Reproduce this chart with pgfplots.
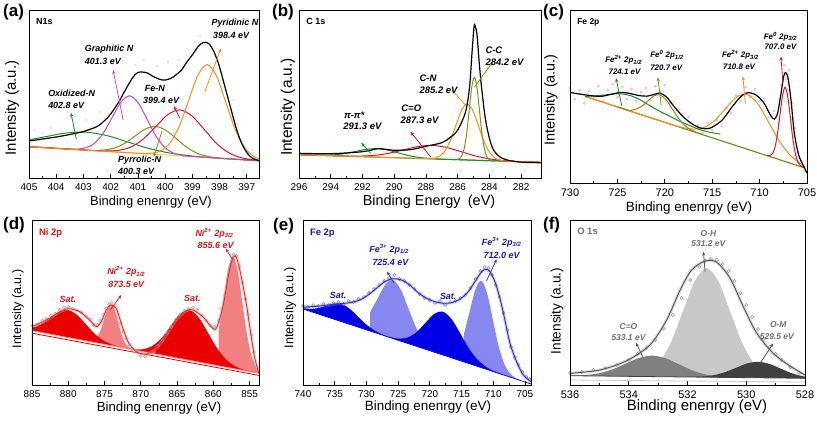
\documentclass[border=0pt]{standalone}
\usepackage{fontspec}
\setmainfont{Liberation Sans}
\usepackage{pgfplots}
\pgfplotsset{compat=1.18}
\usetikzlibrary{arrows.meta}
\definecolor{aorange}{RGB}{255,140,26}
\definecolor{ared}{RGB}{232,20,45}
\definecolor{aolive}{RGB}{140,140,20}
\definecolor{amag}{RGB}{200,70,200}
\definecolor{agreen}{RGB}{30,140,40}
\definecolor{ayellow}{RGB}{225,215,90}
\definecolor{cbase}{RGB}{128,128,32}
\definecolor{pinkdot}{RGB}{240,180,230}
\definecolor{dred}{RGB}{235,0,0}
\definecolor{lred}{RGB}{242,128,128}
\definecolor{dtext}{RGB}{225,20,20}
\definecolor{denv}{RGB}{205,50,50}
\definecolor{dcirc}{RGB}{236,140,140}
\definecolor{dblue}{RGB}{0,0,230}
\definecolor{lblue}{RGB}{135,135,240}
\definecolor{btext}{RGB}{25,25,190}
\definecolor{benv}{RGB}{50,50,190}
\definecolor{bcirc}{RGB}{120,120,200}
\definecolor{g1}{RGB}{200,200,200}
\definecolor{g2}{RGB}{128,128,128}
\definecolor{g3}{RGB}{64,64,64}
\definecolor{gtext}{RGB}{112,112,112}
\definecolor{genv}{RGB}{90,90,90}
\definecolor{gcirc}{RGB}{150,150,150}
\tikzset{ann/.style={inner sep=0pt, font=\fontsize{#1}{#1}\selectfont\bfseries\itshape},
 arr/.style={-{Stealth[length=4bp,width=3.2bp]}, line width=0.8bp}}
\pgfplotsset{
 xps/.style={scale only axis, anchor=south west, x dir=reverse, axis on top,
  clip mode=individual, ytick=\empty, xtick pos=left, tick align=inside,
  major tick length=4bp, minor tick length=2.5bp, minor x tick num=1,
  axis line style={line width=0.9bp, black},
  every tick/.append style={black, line width=0.7bp},
  /pgf/number format/assume math mode=true, /pgf/number format/1000 sep={},
  xticklabel style={font=\fontsize{10}{12}\selectfont, yshift=-2bp}},
 comp/.style={smooth, line width=1bp},
}
\begin{document}
\begin{tikzpicture}
\useasboundingbox (0,0) rectangle (817bp,-424bp);
% ---------------- (a)
\begin{axis}[xps, at={(29bp,-178bp)}, width=230bp, height=168bp,
 xmin=396.55, xmax=405, ymin=-8, ymax=160, xtick={397,398,...,405}]
\addplot[only marks, mark=*, mark size=1.2bp, pinkdot, opacity=0.35] coordinates {(404.8,40) (404.5,36) (404.2,42) (403.8,38) (403.3,47) (402.9,50) (402.4,58) (401.1,105) (400.8,110) (400.3,104) (399.9,108) (399.5,110) (399.2,114) (398.9,128) (398.7,134) (397.9,115) (397.5,70) (396.8,20)};
\addplot[ayellow, line width=1bp] coordinates {(396.55,9.3) (405,23.3)};
\addplot[comp, agreen] coordinates {(396.55,9.3) (397.65,11.16) (398.4,12.57) (399.15,14.4) (399.9,17.29) (400.65,21.93) (401.4,28.26) (402.15,34.47) (402.9,37.82) (403.65,36.95) (404.4,33.23) (405.15,29.39)};
\addplot[comp, aolive] coordinates {(396.55,9.3) (397.69,11.25) (398.07,12.13) (398.45,13.68) (398.83,16.87) (399.21,22.8) (399.59,31.32) (399.97,39.68) (400.35,43.6) (400.73,40.94) (401.11,33.84) (401.49,26.58) (401.87,21.91) (402.25,19.97) (402.63,19.68) (403.01,20.06) (405,23.3)};
\addplot[comp, amag] coordinates {(396.55,9.3) (399.06,13.59) (399.38,14.62) (399.70,17.02) (400.02,22.76) (400.34,34.09) (400.66,50.68) (400.98,66.94) (401.30,74.17) (401.62,68.0) (401.94,52.8) (402.26,37.27) (402.58,27.0) (402.90,22.32) (403.22,20.98) (403.54,21.01) (405,23.3)};
\addplot[comp, ared] coordinates {(396.34,9.05) (396.78,10.19) (397.23,12.45) (397.67,17.38) (398.12,26.84) (398.56,40.53) (399.01,53.98) (399.45,60.11) (399.90,55.45) (400.34,43.48) (400.79,31.27) (401.23,23.27) (401.68,19.82) (402.12,19.04) (402.57,19.38) (405,23.3)};
\addplot[comp, aorange] coordinates {(396.07,8.7) (396.41,10.1) (396.75,13.71) (397.09,22.77) (397.43,40.96) (397.77,67.72) (398.11,93.95) (398.45,105.45) (398.79,95.08) (399.13,69.98) (399.47,44.34) (399.81,27.28) (400.15,19.35) (400.49,16.86) (400.83,16.59) (402,18.33) (405,23.3)};
\addplot[comp, black, line width=1.2bp] coordinates {(405,29) (404.5,31) (404,33) (403.5,35.5) (403,38.5) (402.5,43.5) (402.2,50) (402,56) (401.7,68) (401.5,78) (401.2,92) (401,97.5) (400.7,97.5) (400.4,93) (400.1,90) (399.9,90.5) (399.7,93) (399.4,100) (399.2,108) (399,115) (398.8,123) (398.6,127.5) (398.4,126.5) (398.2,118) (398,103) (397.8,83) (397.6,63) (397.4,43) (397.2,27.5) (397,17.5) (396.8,12) (396.55,9.5)};
\draw[arr, agreen] (axis cs:403.26,30.7) -- (axis cs:403.46,57.3);
\draw[arr, amag] (axis cs:401.54,50) -- (axis cs:401.91,100);
\draw[arr, ared] (axis cs:399.46,51.7) -- (axis cs:399.68,64);
\draw[arr, aolive] (axis cs:400.11,39) -- (axis cs:400.42,13);
\draw[arr, aorange] (axis cs:398.54,78.3) -- (axis cs:397.95,121.7);
\node[ann=9, anchor=west] at (axis cs:398.3,146.7) {Pyridinic N};
\node[ann=9, anchor=west] at (axis cs:398.24,135) {398.4 eV};
\node[ann=9, anchor=west] at (axis cs:402.95,120.7) {Graphitic N};
\node[ann=9, anchor=west] at (axis cs:402.95,108.3) {401.3 eV};
\node[ann=9, anchor=west] at (axis cs:400.75,81.7) {Fe-N};
\node[ann=9, anchor=west] at (axis cs:400.81,70) {399.4 eV};
\node[ann=9, anchor=west] at (axis cs:404.3,76.7) {Oxidized-N};
\node[ann=9, anchor=west] at (axis cs:404.3,65) {402.8 eV};
\node[ann=9, anchor=west] at (axis cs:401.73,9.5) {Pyrrolic-N};
\node[ann=9, anchor=west] at (axis cs:401.73,-1.5) {400.3 eV};
\node[anchor=west, inner sep=0pt, font=\fontsize{9}{10}\selectfont\bfseries] at (rel axis cs:0.03,0.93) {N1s};
\end{axis}
% ---------------- (b)
\begin{axis}[xps, at={(299bp,-178bp)}, width=242bp, height=168bp,
 xmin=280.75, xmax=296, ymin=-8, ymax=160, xtick={282,284,...,296}]
\addplot[agreen, line width=1bp] coordinates {(280.8,7.7) (296,15.3)};
\addplot[comp, agreen] coordinates {(280.8,7.7) (286.55,10.6) (287.2,10.99) (287.85,11.6) (288.5,12.7) (289.15,14.64) (289.8,17.36) (290.45,20.03) (291.1,21.35) (291.75,20.68) (292.4,18.66) (293.05,16.59) (293.7,15.3) (294.35,14.85) (295.0,14.82) (295.65,15.13) (296,15.3)};
\addplot[comp, ared] coordinates {(280.8,7.7) (281.3,7.98) (282.2,8.55) (283.1,9.44) (284.0,11.13) (284.9,14.13) (285.8,18.39) (286.7,22.56) (287.6,24.6) (288.5,23.46) (289.4,20.19) (290.3,16.83) (291.2,14.73) (292.1,13.94) (293.0,13.95) (293.9,14.28) (296,15.3)};
\addplot[comp, aorange] coordinates {(280.8,7.7) (282.88,8.86) (283.24,9.54) (283.6,11.56) (283.96,16.86) (284.32,27.64) (284.68,43.6) (285.04,59.24) (285.4,66.0) (285.76,59.6) (286.12,44.32) (286.48,28.72) (286.84,18.3) (287.2,13.36) (287.56,11.7) (287.92,11.38) (296,15.3)};
\addplot[comp, aolive] coordinates {(283.83,9.4) (283.99,10.22) (284.15,13.02) (284.31,20.69) (284.47,36.49) (284.63,59.96) (284.79,82.95) (284.95,92.78) (285.11,83.11) (285.27,60.28) (285.43,36.97) (285.59,21.33) (285.75,13.82) (285.91,11.18) (286.07,10.52)};
\addplot[comp, black, line width=1.2bp] coordinates {(296,16.7) (294,16.3) (292,18.3) (291,21.3) (290,19.7) (289,20.3) (288,23.7) (287,27.3) (286.46,32.7) (286,40) (285.5,58.3) (285.25,83.3) (285.1,116.7) (284.97,143.3) (284.9,144) (284.78,135) (284.64,106.7) (284.5,83.3) (284.26,51.7) (284,31.7) (283.74,20) (283.3,12.7) (282.7,9.3) (281.85,7.7) (280.75,7.3)};
\draw[arr, agreen] (axis cs:291.49,16.7) -- (axis cs:292.08,27.3);
\draw[arr, ared] (axis cs:287.68,12.7) -- (axis cs:288.98,38.3);
\draw[arr, aorange] (axis cs:285.52,65) -- (axis cs:286.36,80);
\draw[arr, aolive] (axis cs:284.95,82.7) -- (axis cs:283.78,108.3);
\node[ann=9.5, anchor=west] at (axis cs:293.17,55) {π-π*};
\node[ann=9.5, anchor=west] at (axis cs:293.21,43.3) {291.3 eV};
\node[ann=9.5, anchor=west] at (axis cs:289.56,61.7) {C=O};
\node[ann=9.5, anchor=west] at (axis cs:289.61,50) {287.3 eV};
\node[ann=9.5, anchor=west] at (axis cs:288.41,91.7) {C-N};
\node[ann=9.5, anchor=west] at (axis cs:288.41,80) {285.2 eV};
\node[ann=9.5, anchor=west] at (axis cs:284.26,120) {C-C};
\node[ann=9.5, anchor=west] at (axis cs:284.26,107.3) {284.2 eV};
\node[anchor=west, inner sep=0pt, font=\fontsize{9}{10}\selectfont\bfseries] at (rel axis cs:0.03,0.93) {C 1s};
\end{axis}
% ---------------- (c)
\begin{axis}[xps, at={(570bp,-183bp)}, width=237bp, height=173bp,
 xmin=705, xmax=730, ymin=0, ymax=173.3, xtick={705,710,...,730},
 xticklabel style={font=\fontsize{11}{13}\selectfont}]
\addplot[only marks, mark=*, mark size=1.3bp, pinkdot, opacity=0.8] coordinates {(730,95) (729.5,84) (729,93) (728.5,80) (728,92) (727.5,85) (727,97) (726.5,82) (726,93) (725.5,99) (725,86) (724.5,96) (724,84) (723.5,94) (723,82) (722.5,91) (722,95) (721.5,83) (721,97) (720.5,92) (720,98) (719.5,80) (719,73) (718.5,74) (718,60) (717.5,66) (717,52) (716.5,58) (716,50) (715.5,60) (715,53) (714.5,63) (714,57) (713.5,75) (713,70) (712.5,88) (712,82) (711.5,96) (711,86) (710.5,94) (710,82) (709.5,85) (709,66) (708.5,72) (708,60) (707.7,98) (707.4,118) (707.2,104) (706.9,113) (706.6,80) (706.3,55) (706,30) (705.6,22) (705.3,12)};
\addplot[cbase, line width=1.1bp] coordinates {(728.4,86.7) (705.2,15)};
\addplot[comp, aorange] coordinates {(705.2,16.5) (705.55,18.49) (706.7,27.08) (707.85,41.05) (709.0,60.1) (710.15,78.84) (711.3,88.85) (712.45,85.94) (713.6,74.32) (714.75,62.37) (715.9,55.5) (717.05,54.03) (718.2,55.78) (719.35,58.84) (722,66.9) (728.4,86.7)};
\addplot[comp, agreen] coordinates {(728.42,86.7) (726.83,87.7) (725.6,89) (724.54,89.3) (723.66,87.7) (722.6,83.3) (721.55,77.3) (720.5,71.7) (719.44,66.7) (718.4,61.7) (717.32,57.3) (716.27,53.3) (715.2,50.7) (714.15,49)};
\addplot[comp, aolive] coordinates {(716.0,48.43) (716.6,50.52) (717.25,53.37) (717.9,57.76) (718.55,64.69) (719.2,74.03) (719.85,83.22) (720.5,88.28) (721.15,87.24) (721.8,82.06) (722.45,76.74) (723.1,73.83) (723.75,72.61) (724.4,74.62) (725.05,76.4)};
\addplot[comp, ared] coordinates {(705.38,15.72) (705.65,17.22) (705.93,20.53) (706.2,28.17) (706.48,43.15) (706.75,64.97) (707.03,86.4) (707.3,95.99) (707.58,87.53) (707.85,68.37) (708.13,48.24) (708.4,34.97) (708.68,29.02) (708.95,27.42) (709.23,27.61)};
\addplot[comp, black, line width=1.2bp] coordinates {(730,90.7) (728.42,88.3) (726.83,86.7) (725.6,89) (724.72,90.7) (723.84,90) (722.78,87.7) (721.9,87) (721.02,89) (720.49,90) (719.79,86) (719.08,77.3) (718.03,66) (716.97,58.3) (716.09,54.7) (715.21,55) (713.98,62.7) (712.92,76) (712.04,86) (711.34,90.3) (710.46,88.7) (709.58,80.7) (708.87,68.3) (708.45,64) (708.1,70) (707.75,89.3) (707.46,106.7) (707.25,110.7) (707.0,105) (706.69,83.3) (706.34,50) (705.88,28.3) (705.35,16.7) (705.0,10)};
\draw[arr, agreen] (axis cs:724.54,77.3) -- (axis cs:725.14,105);
\draw[arr, aolive] (axis cs:720.39,78.3) -- (axis cs:720.74,106);
\draw[arr, aorange] (axis cs:711.51,79.3) -- (axis cs:711.76,106.7);
\draw[arr, ared] (axis cs:707.54,100) -- (axis cs:707.75,126.7);
\node[ann=8, anchor=west] at (axis cs:726.3,123.3) {Fe\textsuperscript{2+} 2p\textsubscript{1/2}};
\node[ann=8, anchor=west] at (axis cs:725.95,111.7) {724.1 eV};
\node[ann=8, anchor=west] at (axis cs:721.55,128.3) {Fe\textsuperscript{0} 2p\textsubscript{1/2}};
\node[ann=8, anchor=west] at (axis cs:721.55,115) {720.7 eV};
\node[ann=8, anchor=west] at (axis cs:713.98,128.3) {Fe\textsuperscript{2+} 2p\textsubscript{3/2}};
\node[ann=8, anchor=west] at (axis cs:713.87,116.7) {710.8 eV};
\node[ann=8, anchor=west] at (axis cs:709.58,146.7) {Fe\textsuperscript{0} 2p\textsubscript{3/2}};
\node[ann=8, anchor=west] at (axis cs:709.5,136.7) {707.0 eV};
\node[anchor=west, inner sep=0pt, font=\fontsize{8.5}{10}\selectfont\bfseries] at (rel axis cs:0.03,0.93) {Fe 2p};
\end{axis}
% ---------------- (d)
\begin{axis}[xps, at={(32bp,-385bp)}, width=227bp, height=165bp,
 xmin=853.7, xmax=885, ymin=1.7, ymax=166.7, xtick={855,860,...,885}]
\addplot[smooth, fill=lred, draw=none] coordinates {(871.25,37.7) (871.73,39.71) (872.2,44.14) (872.68,52.67) (873.15,65.0) (873.63,77.1) (874.1,82.63) (874.58,78.4) (875.05,67.59) (875.53,56.56) (876.0,49.33)} \closedcycle;
\addplot[smooth, fill=lred, draw=none] coordinates {(852.75,12.25) (853.4,14.13) (854.05,18.7) (854.7,29.81) (855.35,51.92) (856.0,84.37) (856.65,116.16) (857.3,130.21) (857.95,117.94) (858.6,87.91) (859.25,57.24)} \closedcycle;
\addplot[smooth, fill=dred, draw=none] coordinates {(871.6,37.78) (872.8,39.66) (874.0,42.21) (875.2,46.35) (876.4,53.19) (877.6,62.58) (878.8,71.81) (880.0,76.67) (881.2,75.08) (882.4,69.13) (883.6,62.99) (884.8,59.44) (886,58.57)} \closedcycle;
\addplot[smooth, fill=dred, draw=none] coordinates {(854.2,14.09) (855.5,16.32) (856.8,19.74) (858.1,26.12) (859.4,37.43) (860.7,53.42) (862.0,69.1) (863.3,76.79) (864.6,72.65) (865.9,60.51) (867.2,48.07) (868.5,40.31) (869.8,37.47) (871.1,37.59) (872.4,38.92)} \closedcycle;
\addplot[fill=white, draw=none] coordinates {(853.7,13.3) (885,56)} \closedcycle;
\addplot[lred, line width=0.8bp] coordinates {(853.7,13.3) (885,56)};
\addplot[dred, line width=0.8bp] coordinates {(853.7,11.3) (885,53.5)};
\addplot[comp, dcirc, line width=3bp, opacity=0.45] coordinates {(885,60) (883,66.7) (881.4,74) (880,78) (878.4,75) (877.05,66.7) (876.13,60) (875.45,65) (874.76,76.7) (874.16,81.7) (873.38,78.3) (872.69,63.3) (871.77,45) (870.62,35) (869.24,32.7) (867.87,38.3) (866.49,51.7) (865.11,66.7) (863.73,76) (862.81,76.7) (861.44,70) (860.29,60) (859.6,58.3) (858.68,80) (857.76,116.7) (857.21,130) (856.75,128.3) (856.15,110) (855.46,83.3) (854.91,56.7) (854.32,30) (853.72,13.3)};
\addplot[only marks, mark=o, mark size=1.5bp, dcirc, line width=0.5bp] coordinates {(885,61) (884.3,62) (883.6,66) (883,68) (882.4,71) (881.8,73) (881.2,77) (880.6,79) (880,80) (879.4,78) (878.8,76) (878.2,74) (877.6,70) (877,67) (876.5,62) (876,62) (875.6,66) (875.2,72) (874.8,78) (874.4,82) (874,84) (873.6,80) (873.2,72) (872.8,64) (872.4,55) (872,48) (871.6,42) (871.2,38) (870.6,35) (870,31) (869.4,30) (868.8,33) (868.2,35) (867.6,41) (867,46) (866.4,53) (865.8,60) (865.2,67) (864.6,72) (864,76) (863.4,78) (862.8,79) (862.2,77) (861.6,71) (861,66) (860.4,61) (859.8,60) (859.2,66) (858.8,78) (858.4,92) (858,108) (857.6,122) (857.2,132) (856.8,131) (856.4,120) (856,104) (855.6,88) (855.2,72) (854.8,52) (854.4,34) (854,20)};
\addplot[comp, denv, line width=0.8bp] coordinates {(885,60) (883,66.7) (881.4,74) (880,78) (878.4,75) (877.05,66.7) (876.13,60) (875.45,65) (874.76,76.7) (874.16,81.7) (873.38,78.3) (872.69,63.3) (871.77,45) (870.62,35) (869.24,32.7) (867.87,38.3) (866.49,51.7) (865.11,66.7) (863.73,76) (862.81,76.7) (861.44,70) (860.29,60) (859.6,58.3) (858.68,80) (857.76,116.7) (857.21,130) (856.75,128.3) (856.15,110) (855.46,83.3) (854.91,56.7) (854.32,30) (853.72,13.3)};
\draw[arr, denv] (axis cs:874.2,76.7) -- (axis cs:872.69,91.7);
\draw[arr, denv] (axis cs:857.3,126.7) -- (axis cs:858.31,138.3);
\node[ann=9, dtext] at (axis cs:872.0,115) {Ni\textsuperscript{2+} 2p\textsubscript{1/2}};
\node[ann=9, dtext] at (axis cs:872.0,102.7) {873.5 eV};
\node[ann=9, dtext] at (axis cs:859.83,153.3) {Ni\textsuperscript{2+} 2p\textsubscript{3/2}};
\node[ann=9, dtext] at (axis cs:859.69,141.7) {855.6 eV};
\node[ann=9, dtext] at (axis cs:880.04,87.3) {Sat.};
\node[ann=9, dtext] at (axis cs:862.9,88.3) {Sat.};
\node[anchor=west, inner sep=0pt, dtext, font=\fontsize{9.5}{10}\selectfont\bfseries] at (rel axis cs:0.03,0.92) {Ni 2p};
\end{axis}
% ---------------- (e)
\begin{axis}[xps, at={(303bp,-385bp)}, width=228bp, height=165bp,
 xmin=704.05, xmax=740, ymin=0, ymax=165, xtick={705,710,...,740}]
\addplot[smooth, fill=lblue, draw=none] coordinates {(721.0,44.29) (722.2,57.89) (723.4,76.9) (724.6,95.58) (725.8,104.97) (727.0,100.58) (728.2,86.92) (729.4,72.91)} \closedcycle;
\addplot[smooth, fill=lblue, draw=none] coordinates {(704.0,1.5) (705.6,4.42) (706.5,7.08) (707.4,11.81) (708.3,21.64) (709.2,39.99) (710.1,66.39) (711.0,92.28) (711.9,104.38) (712.8,96.03) (713.7,73.9) (714.6,51.26)} \closedcycle;
\addplot[smooth, fill=dblue, draw=none] coordinates {(725.15,45.05) (726.4,47.82) (727.65,51.01) (728.9,55.23) (730.15,61.19) (731.4,68.79) (732.65,76.28) (733.9,80.97) (735.15,81.49) (736.4,79.22) (737.65,76.84) (738.9,76.09) (740.15,77.09)} \closedcycle;
\addplot[smooth, fill=dblue, draw=none] coordinates {(708.1,9.55) (709.5,12.85) (710.9,17.2) (712.3,24.08) (713.7,35.22) (715.1,50.37) (716.5,65.27) (717.9,73.29) (719.3,71.11) (720.7,62.05) (722.1,52.74) (723.5,47.44) (724.9,46.4) (726.3,47.89) (727.7,50.43)} \closedcycle;
\addplot[fill=white, draw=none] coordinates {(704.05,1) (740,76)} \closedcycle;
\addplot[dblue, line width=0.7bp] coordinates {(704.05,1) (740,76)};
\addplot[comp, bcirc, line width=3bp, opacity=0.4] coordinates {(740,77.7) (737.37,79) (734.74,81) (732.63,82.3) (731.05,85) (729.74,90) (728.42,96.7) (727.1,103.3) (725.79,106.3) (724.47,105) (723.16,100) (721.84,92.3) (720.53,86.7) (719.21,83.3) (717.89,81.7) (716.58,82.3) (715.26,85.7) (713.95,93.3) (712.89,103.3) (711.84,113.3) (711.16,115.7) (710.53,113.3) (709.74,103.3) (708.95,86.7) (708.16,65) (707.37,41.7) (706.32,23.3) (705.26,10) (704.05,3.3)};
\addplot[only marks, mark=o, mark size=1.5bp, bcirc, line width=0.5bp] coordinates {(740,79) (739.2,78) (738.4,80) (737.6,79) (736.8,81) (736,80) (735.2,82) (734.4,83) (733.6,81) (732.8,84) (732,83) (731.2,86) (730.4,88) (729.6,92) (728.8,96) (728,100) (727.2,104) (726.4,107) (725.6,110) (724.8,106) (724,104) (723.2,100) (722.4,96) (721.6,91) (720.8,87) (720,85) (719.2,82) (718.4,84) (717.6,80) (716.8,83) (716,84) (715.2,87) (714.4,90) (713.6,97) (712.8,106) (712,114) (711.4,118) (710.8,117) (710.2,110) (709.6,100) (709,88) (708.4,72) (707.8,55) (707.2,38) (706.6,28) (706,20) (705.4,13) (704.8,8) (704.3,6)};
\addplot[comp, benv, line width=0.9bp] coordinates {(740,77.7) (737.37,79) (734.74,81) (732.63,82.3) (731.05,85) (729.74,90) (728.42,96.7) (727.1,103.3) (725.79,106.3) (724.47,105) (723.16,100) (721.84,92.3) (720.53,86.7) (719.21,83.3) (717.89,81.7) (716.58,82.3) (715.26,85.7) (713.95,93.3) (712.89,103.3) (711.84,113.3) (711.16,115.7) (710.53,113.3) (709.74,103.3) (708.95,86.7) (708.16,65) (707.37,41.7) (706.32,23.3) (705.26,10) (704.05,3.3)};
\draw[arr, benv] (axis cs:725.68,102.3) -- (axis cs:726.74,113.3);
\draw[arr, benv] (axis cs:711.05,104.3) -- (axis cs:709.47,125.7);
\node[ann=9, btext] at (axis cs:726.42,136) {Fe\textsuperscript{3+} 2p\textsubscript{1/2}};
\node[ann=9, btext] at (axis cs:726.21,122.3) {725.4 eV};
\node[ann=9, btext] at (axis cs:708.68,142.7) {Fe\textsuperscript{3+} 2p\textsubscript{3/2}};
\node[ann=9, btext] at (axis cs:708.68,129.3) {712.0 eV};
\node[ann=9, btext] at (axis cs:734.47,90) {Sat.};
\node[ann=9, btext] at (axis cs:717.1,89) {Sat.};
\node[anchor=west, inner sep=0pt, btext, font=\fontsize{9.5}{10}\selectfont\bfseries] at (rel axis cs:0.03,0.92) {Fe 2p};
\end{axis}
% ---------------- (f)
\begin{axis}[xps, at={(570bp,-385bp)}, width=235bp, height=165bp,
 xmin=528, xmax=536, ymin=0, ymax=165, xtick={528,530,...,536},
 xticklabel style={font=\fontsize{11}{13}\selectfont}]
\addplot[smooth, fill=g1, draw=none] coordinates {(528.55,7.12) (528.95,8.22) (529.35,11.93) (529.75,22.02) (530.15,42.79) (530.55,73.64) (530.95,103.85) (531.35,116.79) (531.75,104.11) (532.15,74.16) (532.55,43.57) (532.95,23.06) (533.35,13.23) (533.75,9.78) (534.15,8.94)} \closedcycle;
\addplot[smooth, fill=g2, draw=none] coordinates {(530.05,7.42) (530.5,7.74) (530.95,8.58) (531.4,10.65) (531.85,14.77) (532.3,20.84) (532.75,26.77) (533.2,29.39) (533.65,27.07) (534.1,21.42) (534.55,15.65) (535.0,11.82) (535.45,10.04) (535.9,9.5) (536.35,9.46)} \closedcycle;
\addplot[smooth, fill=g3, draw=none] coordinates {(527.73,7.31) (528.1,8.89) (528.48,12.06) (528.85,16.68) (529.23,21.22) (529.6,23.22) (529.98,21.46) (530.35,17.16) (530.73,12.79) (531.1,9.87) (531.48,8.53) (531.85,8.13) (532.23,8.11)} \closedcycle;
\addplot[fill=white, draw=none] coordinates {(528,6.7) (536,9.3)} \closedcycle;
\addplot[g3, line width=0.8bp] coordinates {(528,6.7) (536,9.3)};
\addplot[g1, line width=0.8bp] coordinates {(528,3) (536,5)};
\addplot[comp, gcirc, line width=3bp, opacity=0.4] coordinates {(536.0,11.7) (534.98,15) (534.07,24.3) (533.28,40) (532.71,65) (532.25,95) (531.86,115) (531.4,124) (531.0,122.7) (530.55,106.7) (530.1,78.3) (529.64,51.7) (529.08,31.7) (528.51,19) (528.0,10)};
\addplot[only marks, mark=o, mark size=1.6bp, gcirc, line width=0.5bp] coordinates {(536,12) (535.6,13) (535.2,15) (534.8,17) (534.4,20) (534,25) (533.7,31) (533.4,37) (533.1,45) (532.8,56) (532.5,70) (532.2,87) (531.9,105) (531.6,118) (531.4,124) (531.2,126) (531,125) (530.8,121) (530.6,114) (530.4,104) (530.2,92) (530,80) (529.8,68) (529.6,56) (529.4,46) (529.2,38) (529,31) (528.8,25) (528.5,18) (528.2,12)};
\addplot[comp, genv, line width=0.9bp] coordinates {(536.0,11.7) (534.98,15) (534.07,24.3) (533.28,40) (532.71,65) (532.25,95) (531.86,115) (531.4,124) (531.0,122.7) (530.55,106.7) (530.1,78.3) (529.64,51.7) (529.08,31.7) (528.51,19) (528.0,10)};
\draw[arr, genv] (axis cs:531.4,113.3) -- (axis cs:531.46,133.3);
\draw[arr, genv] (axis cs:533.53,28.3) -- (axis cs:533.75,42.3);
\draw[arr, genv] (axis cs:529.53,21.7) -- (axis cs:529.08,41.7);
\node[ann=8.5, gtext] at (axis cs:531.29,151.7) {O-H};
\node[ann=8.5, gtext] at (axis cs:531.29,141.7) {531.2 eV};
\node[ann=8.5, gtext] at (axis cs:534.01,58.3) {C=O};
\node[ann=8.5, gtext] at (axis cs:534.01,47.7) {533.1 eV};
\node[ann=8.5, gtext] at (axis cs:528.91,60) {O-M};
\node[ann=8.5, gtext] at (axis cs:528.96,48.3) {529.5 eV};
\node[anchor=west, inner sep=0pt, gtext, font=\fontsize{9.5}{10}\selectfont\bfseries] at (rel axis cs:0.03,0.93) {O 1s};
\end{axis}
% ---------------- outer labels
\begin{scope}[every node/.style={inner sep=0pt}]
\node[anchor=west, font=\fontsize{17}{18}\selectfont\bfseries] at (3bp,-12bp) {(a)};
\node[anchor=west, font=\fontsize{17}{18}\selectfont\bfseries] at (272bp,-12bp) {(b)};
\node[anchor=west, font=\fontsize{17}{18}\selectfont\bfseries] at (543bp,-12bp) {(c)};
\node[anchor=west, font=\fontsize{17}{18}\selectfont\bfseries] at (3bp,-225bp) {(d)};
\node[anchor=west, font=\fontsize{17}{18}\selectfont\bfseries] at (273bp,-226bp) {(e)};
\node[anchor=west, font=\fontsize{17}{18}\selectfont\bfseries] at (543bp,-225bp) {(f)};
\node[rotate=90, font=\fontsize{15}{16}\selectfont] at (12bp,-108bp) {Intensity (a.u.)};
\node[rotate=90, font=\fontsize{15.5}{16}\selectfont] at (288bp,-107bp) {Intensity (a.u.)};
\node[rotate=90, font=\fontsize{14.5}{16}\selectfont] at (551bp,-100bp) {Intensity (a.u.)};
\node[rotate=90, font=\fontsize{12.5}{14}\selectfont] at (18bp,-309bp) {Intensity (a.u.)};
\node[rotate=90, font=\fontsize{12.8}{14}\selectfont] at (290bp,-308bp) {Intensity (a.u.)};
\node[rotate=90, font=\fontsize{13.7}{15}\selectfont] at (557bp,-311bp) {Intensity (a.u.)};
\node[font=\fontsize{13}{15}\selectfont] at (151bp,-202bp) {Binding enenrgy (eV)};
\node[font=\fontsize{14.5}{16}\selectfont] at (429bp,-202bp) {Binding Energy\enspace(eV)};
\node[font=\fontsize{13.5}{15}\selectfont] at (689bp,-208bp) {Binding enenrgy (eV)};
\node[font=\fontsize{13.3}{15}\selectfont] at (159bp,-408bp) {Binding enenrgy (eV)};
\node[font=\fontsize{13.5}{15}\selectfont] at (428bp,-407bp) {Binding enenrgy (eV)};
\node[font=\fontsize{15}{16}\selectfont] at (697bp,-407bp) {Binding enenrgy (eV)};
\end{scope}
\end{tikzpicture}
\end{document}
